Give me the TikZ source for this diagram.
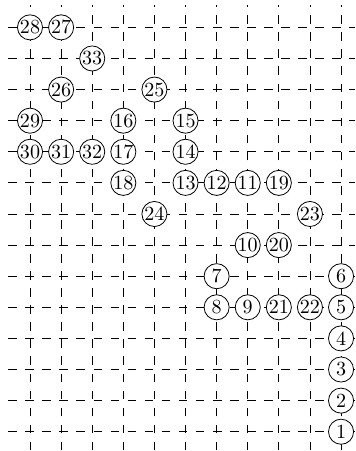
\documentclass[tikz,border=0pt]{standalone}
\usepackage{tikz}

\begin{document}
\begin{tikzpicture}[x=15.5pt, y=15.5pt,
  site/.style={draw, circle, fill=white, inner sep=0pt, minimum size=12.5pt},
  lattice/.style={dash pattern=on 4.3pt off 4.2pt, line width=0.4pt}]
\useasboundingbox (-0.965,-0.62) rectangle (10.48,13.88);
\draw[lattice, step=15.5pt] (-0.7,-0.6) grid (10.45,13.72);
\node[site] (n28) at (0,13) {28};
\node[site] (n27) at (1,13) {27};
\node[site] (n33) at (2,12) {33};
\node[site] (n26) at (1,11) {26};
\node[site] (n25) at (4,11) {25};
\node[site] (n29) at (0,10) {29};
\node[site] (n16) at (3,10) {16};
\node[site] (n15) at (5,10) {15};
\node[site] (n30) at (0,9) {30};
\node[site] (n31) at (1,9) {31};
\node[site] (n32) at (2,9) {32};
\node[site] (n17) at (3,9) {17};
\node[site] (n14) at (5,9) {14};
\node[site] (n18) at (3,8) {18};
\node[site] (n13) at (5,8) {13};
\node[site] (n12) at (6,8) {12};
\node[site] (n11) at (7,8) {11};
\node[site] (n19) at (8,8) {19};
\node[site] (n24) at (4,7) {24};
\node[site] (n23) at (9,7) {23};
\node[site] (n10) at (7,6) {10};
\node[site] (n20) at (8,6) {20};
\node[site] (n7) at (6,5) {7};
\node[site] (n6) at (10,5) {6};
\node[site] (n8) at (6,4) {8};
\node[site] (n9) at (7,4) {9};
\node[site] (n21) at (8,4) {21};
\node[site] (n22) at (9,4) {22};
\node[site] (n5) at (10,4) {5};
\node[site] (n4) at (10,3) {4};
\node[site] (n3) at (10,2) {3};
\node[site] (n2) at (10,1) {2};
\node[site] (n1) at (10,0) {1};
\end{tikzpicture}
\end{document}
